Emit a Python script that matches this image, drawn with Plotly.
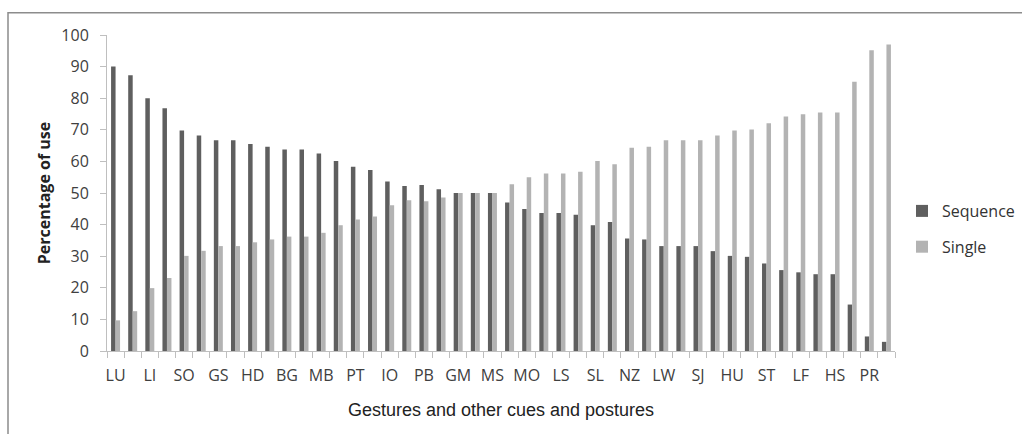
import plotly.graph_objects as go

# Visible tick labels (every other category is labelled in the original chart)
tick_labels = ["LU", "LI", "SO", "GS", "HD", "BG", "MB", "PT", "IO", "PB", "GM", "MS",
               "MO", "LS", "SL", "NZ", "LW", "SJ", "HU", "ST", "LF", "HS", "PR"]

# Category positions 1..46
positions = list(range(1, 47))

sequence = [90.0, 87.3, 80.0, 76.8, 69.8, 68.2, 66.7, 66.7, 65.5, 64.6, 63.8, 63.8,
            62.5, 60.1, 58.3, 57.3, 53.6, 52.2, 52.5, 51.2, 50.0, 50.0, 50.0, 47.0,
            44.9, 43.7, 43.7, 43.1, 39.8, 40.8, 35.6, 35.3, 33.2, 33.2, 33.2, 31.6,
            30.1, 29.8, 27.7, 25.6, 24.9, 24.3, 24.3, 14.7, 4.6, 2.9]

single = [9.7, 12.6, 19.9, 23.1, 30.1, 31.7, 33.2, 33.2, 34.4, 35.3, 36.2, 36.2,
          37.4, 39.8, 41.6, 42.6, 46.1, 47.7, 47.4, 48.6, 50.0, 50.0, 50.0, 52.8,
          55.0, 56.2, 56.2, 56.7, 60.1, 59.1, 64.3, 64.6, 66.7, 66.7, 66.7, 68.2,
          69.8, 70.1, 72.1, 74.2, 74.9, 75.5, 75.5, 85.2, 95.2, 97.0]

tick_positions = positions[::2]
boundaries = [p - 0.5 for p in positions] + [positions[-1] + 0.5]

FONT = "Open Sans, Noto Sans, sans-serif"

fig = go.Figure()
fig.add_trace(go.Bar(x=positions, y=sequence, name="Sequence", legendgroup="seq",
                     marker=dict(color="#5f5f5f", line=dict(width=0))))
fig.add_trace(go.Bar(x=positions, y=single, name="Single", legendgroup="sgl",
                     marker=dict(color="#b3b3b3", line=dict(width=0))))
# invisible helper trace on a second x axis, carrying the boundary tick marks
fig.add_trace(go.Scatter(x=[boundaries[0], boundaries[-1]], y=[0, 0], xaxis="x2",
                         mode="lines", line=dict(width=0), showlegend=False,
                         hoverinfo="skip"))

L, R, T, B = 107, 127, 35, 83
W, H = 1022, 434
pw = W - L - R
ph = H - T - B

fig.update_layout(
    width=W, height=H,
    margin=dict(l=L, r=R, t=T, b=B, autoexpand=False),
    paper_bgcolor="white", plot_bgcolor="white",
    barmode="group", bargap=0.475, bargroupgap=0,
    font=dict(family=FONT, size=16, color="#404040"),
    showlegend=True,
    legend=dict(x=(902 - L) / pw, y=(351 - 194) / ph, xanchor="left", yanchor="top",
                font=dict(size=16, color="#333333"), bgcolor="rgba(0,0,0,0)",
                itemwidth=30, tracegroupgap=12),
    xaxis=dict(
        range=[0.5, 46.5], tickmode="array", tickvals=tick_positions, ticktext=tick_labels,
        ticks="", showline=True, linecolor="#bfbfbf", linewidth=1, showgrid=False,
        zeroline=False, tickfont=dict(size=16, color="#404040"), ticklabelstandoff=10,
        title=dict(text="Gestures and other cues and postures",
                   font=dict(size=18, color="#222222", family="Liberation Sans, Arial, sans-serif"),
                   standoff=18),
    ),
    xaxis2=dict(
        overlaying="x", anchor="y", side="bottom", range=[0.5, 46.5],
        tickmode="array", tickvals=boundaries, showticklabels=False,
        ticks="outside", ticklen=6, tickcolor="#bfbfbf", showline=False,
        showgrid=False, zeroline=False,
    ),
    yaxis=dict(
        range=[0, 100], tickmode="linear", tick0=0, dtick=10, ticks="outside", ticklen=6,
        tickcolor="#bfbfbf", showline=True, linecolor="#bfbfbf", linewidth=1,
        showgrid=False, zeroline=False, tickfont=dict(size=16, color="#404040"),
        ticklabelstandoff=8,
        title=dict(text="<b>Percentage of use</b>", font=dict(size=16, color="#222222"),
                   standoff=6),
    ),
    shapes=[dict(type="rect", xref="paper", yref="paper",
                 x0=(8 - L) / pw, x1=(1040 - L) / pw,
                 y0=(351 - 450) / ph, y1=(351 - 12.7) / ph,
                 line=dict(color="#8c8c8c", width=1.5), fillcolor="rgba(0,0,0,0)",
                 layer="below")],
)

fig.write_html("out.html")
